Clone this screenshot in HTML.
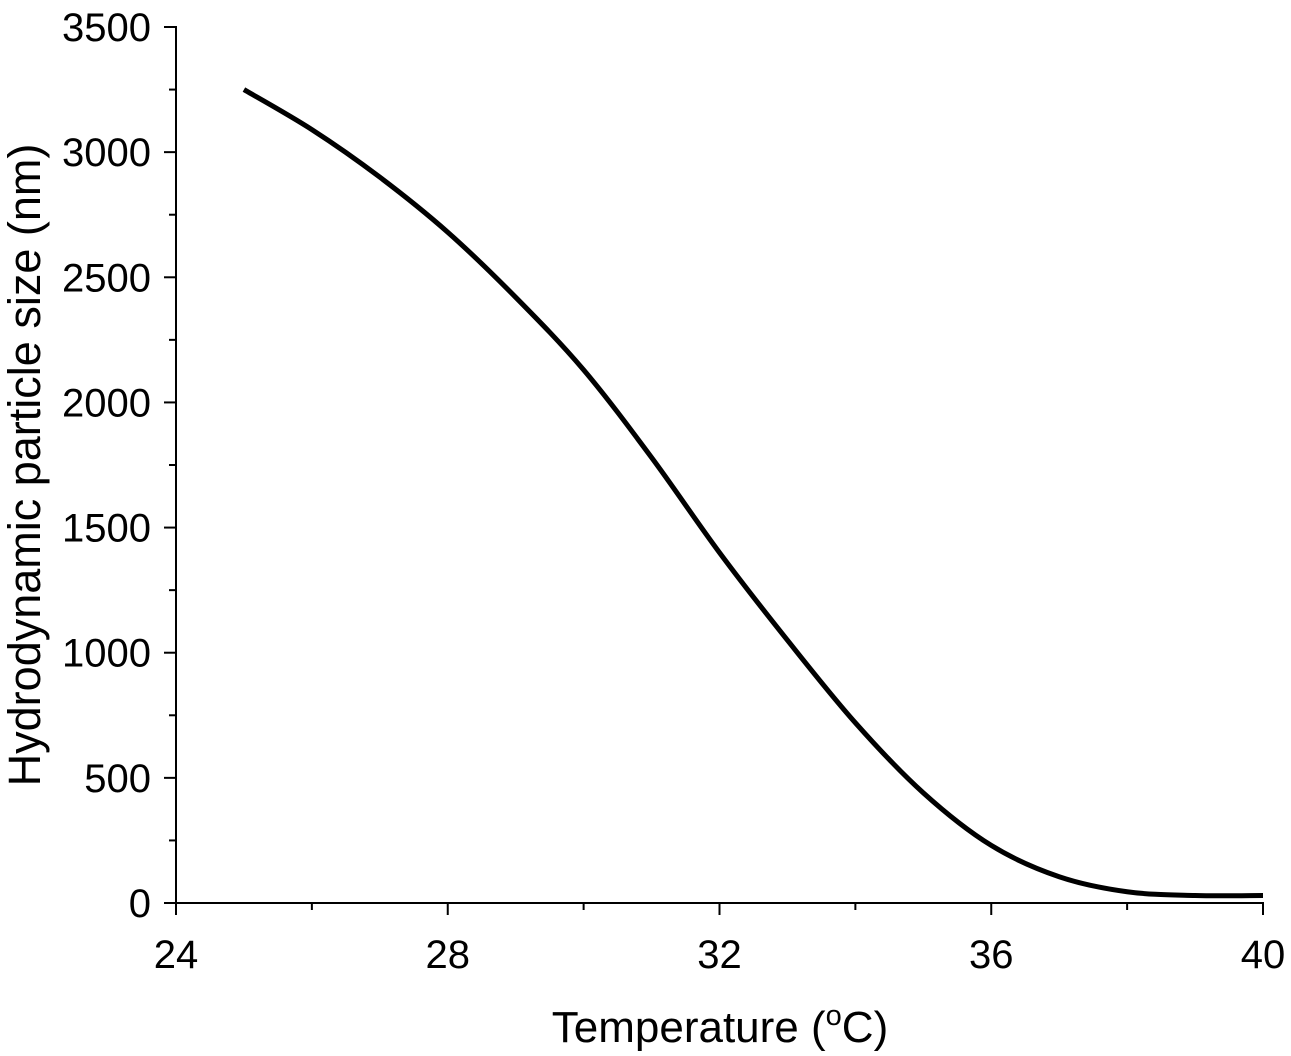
<!DOCTYPE html>
<html><head><meta charset="utf-8"><style>
html,body{margin:0;padding:0;background:#fff}
svg{display:block;font-family:"Liberation Sans",Arial,sans-serif}
</style></head><body>
<svg id="chart" width="1291" height="1056" viewBox="0 0 1291 1056">
<g id="axes"></g>
<path id="curve" fill="none" stroke="#000" stroke-width="5" stroke-linejoin="round"/>
<text x="720" y="1042" font-size="44" text-anchor="middle">Temperature (<tspan font-size="29" dy="-17">o</tspan><tspan dy="17">C)</tspan></text>
<text transform="translate(40,465) rotate(-90)" font-size="45" text-anchor="middle">Hydrodynamic particle size (nm)</text>
</svg>
<script>
const xTicks=[24,28,32,36,40];
const yTicks=[0,500,1000,1500,2000,2500,3000,3500];
const temps=[25,26,27,28,29,30,31,32,33,34,35,36,37,38,39,40];
const sizes=[3250,3090,2900,2680,2420,2130,1780,1400,1050,720,440,230,105,45,30,30];
const X=v=>176+(v-24)*(1263-176)/16;
const Y=v=>903-v*(903-27)/3500;
const ns="http://www.w3.org/2000/svg";
const ax=document.getElementById('axes');
function mk(t,a){const e=document.createElementNS(ns,t);for(const k in a)e.setAttribute(k,a[k]);ax.appendChild(e);return e;}
let e=mk('line',{x1:176,y1:903,x2:1264,y2:903,stroke:'#000','stroke-width':2});


e=mk('line',{x1:176,y1:903,x2:176,y2:26,stroke:'#000','stroke-width':2});


for(let v=24;v<=40;v+=2){const major=xTicks.includes(v);
 e=mk('line',{x1:X(v),y1:903,x2:X(v),y2:903+(major?12:7),stroke:'#000','stroke-width':2});
 
 }
xTicks.forEach(v=>{e=mk('text',{x:X(v),y:968,'font-size':40,'text-anchor':'middle'});e.textContent=v;
 
 });
for(let v=0;v<=3500;v+=250){const major=yTicks.includes(v);
 e=mk('line',{x1:176,y1:Y(v),x2:176-(major?12:7),y2:Y(v),stroke:'#000','stroke-width':2});
 
 }
yTicks.forEach(v=>{e=mk('text',{x:151,y:Y(v)+14,'font-size':40,'text-anchor':'end'});e.textContent=v;
 
 });
const P=temps.map((t,i)=>[X(t),Y(sizes[i])]);
let d='M'+P[0][0]+','+P[0][1];
for(let i=0;i<P.length-1;i++){const p0=P[Math.max(i-1,0)],p1=P[i],p2=P[i+1],p3=P[Math.min(i+2,P.length-1)];
 d+=' C'+(p1[0]+(p2[0]-p0[0])/6)+','+(p1[1]+(p2[1]-p0[1])/6)+' '+(p2[0]-(p3[0]-p1[0])/6)+','+(p2[1]-(p3[1]-p1[1])/6)+' '+p2[0]+','+p2[1];}
document.getElementById('curve').setAttribute('d',d);
</script>
</body></html>
